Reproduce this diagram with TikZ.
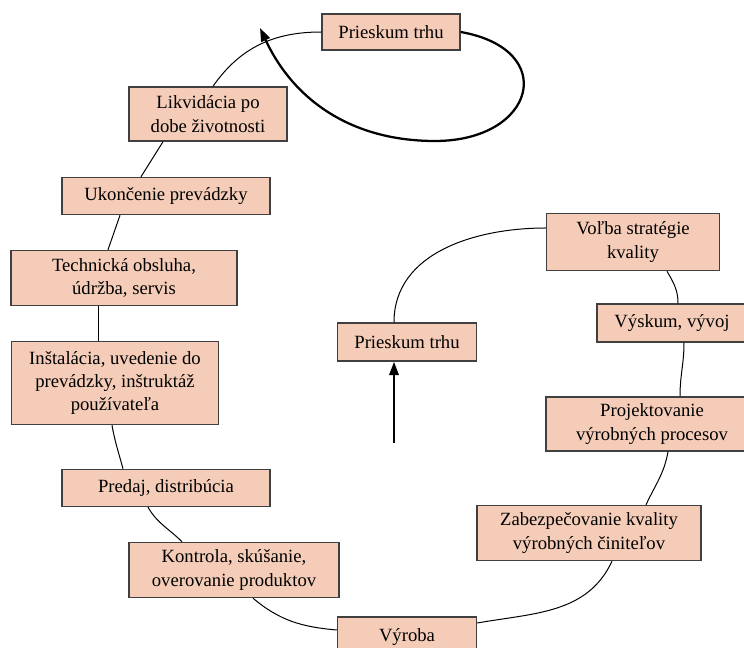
\documentclass[tikz,border=0pt]{standalone}
\usepackage{fontspec}
\setmainfont{Liberation Serif}
\usepackage{xcolor}
\usetikzlibrary{arrows.meta,calc}
\definecolor{boxfill}{RGB}{244,204,184}
\tikzset{
    box/.style={draw=black!75,line width=1.1pt,fill=boxfill,align=center,inner sep=2pt,
        font=\fontsize{14}{17.5}\selectfont},
    sz/.style 2 args={minimum width=#1*0.75pt,minimum height=#2*0.75pt},
    link/.style={line width=0.75pt},
    arr/.style={-{Triangle[length=10pt,width=7pt]},line width=1.7pt}
}

\begin{document}
\begin{tikzpicture}[x=0.75pt,y=0.75pt]
    \useasboundingbox (0,0) rectangle (744,-648);
    \clip (0,0) rectangle (744,-648);

    % outer cycle
    \node[box,sz={138}{36}] (topmkt) at (391,-32) {Prieskum trhu};
    \node[box,sz={158}{54}] (likv) at (208,-114) {Likvidácia po\\dobe životnosti};
    \node[box,sz={208}{37}] (ukon) at (166,-196) {Ukončenie prevádzky};
    \node[box,sz={226}{55}] (tech) at (124,-278) {Technická obsluha,\\údržba, servis};
    \node[box,sz={207}{83}] (inst) at (115,-383) {Inštalácia, uvedenie do\\prevádzky, inštruktáž\\používateľa};
    \node[box,sz={208}{37}] (predaj) at (166,-488) {Predaj, distribúcia};
    \node[box,sz={210}{55}] (kontr) at (234,-570) {Kontrola, skúšanie,\\overovanie produktov};
    \node[box,sz={139}{40}] (vyroba) at (407,-637) {Výroba};
    \node[box,sz={224}{55}] (zabez) at (589,-533) {Zabezpečovanie kvality\\výrobných činiteľov};
    \node[box,sz={212}{54}] (proj) at (652,-424) {Projektovanie\\výrobných procesov};
    \node[box,sz={150}{38}] (vyskum) at (672,-323) {Výskum, vývoj};
    \node[box,sz={173}{57}] (volba) at (633,-242) {Voľba stratégie\\kvality};
    \node[box,sz={139}{38}] (midmkt) at (407,-342) {Prieskum trhu};

    \draw[link] (topmkt.west) to[out=180,in=55] ($(likv.north)+(5,0)$);
    \draw[link] ($(likv.south)+(-45,0)$) -- ($(ukon.north)+(-25,0)$);
    \draw[link] ($(ukon.south)+(-46,0)$) -- ($(tech.north)+(-16,0)$);
    \draw[link] ($(tech.south)+(-26,0)$) -- ($(inst.north)+(-17,0)$);
    \draw[link] ($(inst.south)+(-3,0)$) to[out=-80,in=105] ($(predaj.north)+(-43,0)$);
    \draw[link] ($(predaj.south)+(-18,0)$) to[out=-60,in=135] ($(kontr.north)+(-52,0)$);
    \draw[link] ($(kontr.south)+(19,0)$) to[out=-40,in=175] ($(vyroba.west)+(0,7)$);
    \draw[link] ($(vyroba.east)+(0,14)$) to[out=10,in=-115] ($(zabez.south)+(23,0)$);
    \draw[link] ($(zabez.north)+(57,0)$) to[out=65,in=-100] ($(proj.south)+(16,0)$);
    \draw[link] ($(proj.north)+(28,0)$) to[out=90,in=-90] ($(vyskum.south)+(12,0)$);
    \draw[link] ($(vyskum.north)+(6,0)$) to[out=90,in=-60] ($(volba.south)+(34,0)$);
    \draw[link] ($(volba.west)+(0,14)$) to[out=180,in=90] ($(midmkt.north)+(-13,0)$);

    % feedback loop and entry arrow
    \coordinate (loopbot) at (435,-141);
    \coordinate (looptip) at (260,-28);
    \draw[arr] (topmkt.east) to[out=-10,in=0,looseness=2.3] (loopbot)
        to[out=180,in=-65] (looptip);
    \coordinate (arrfoot) at (394,-443);
    \draw[arr] (arrfoot) -- (arrfoot |- midmkt.south);
\end{tikzpicture}
\end{document}
